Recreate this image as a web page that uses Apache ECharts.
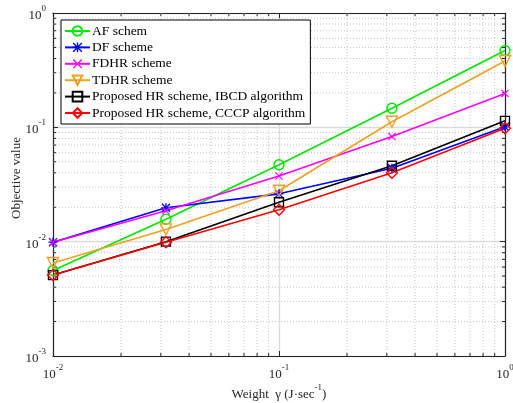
<!DOCTYPE html>
<html><head><meta charset="utf-8">
<script src="https://cdn.jsdelivr.net/npm/echarts@6/dist/echarts.min.js"></script>
<style>html,body{margin:0;padding:0;background:#fff}#c{width:513px;height:403px}</style>
</head><body><div id="c"></div>
<script>
const xValues = [0.01, 0.0316, 0.1, 0.316, 1];
const afValues = [0.0056, 0.0157, 0.047, 0.147, 0.47];
const dfValues = [0.0099, 0.0198, 0.0262, 0.0438, 0.101];
const fdhrValues = [0.0099, 0.0186, 0.0375, 0.083, 0.198];
const tdhrValues = [0.0065, 0.0128, 0.0279, 0.112, 0.38];
const ibcdValues = [0.0051, 0.0100, 0.0221, 0.0461, 0.114];
const cccpValues = [0.0051, 0.0099, 0.0190, 0.0401, 0.098];
const seriesNames = ['AF schem', 'DF scheme', 'FDHR scheme', 'TDHR scheme',
  'Proposed HR scheme, IBCD algorithm', 'Proposed HR scheme, CCCP algorithm'];
const xMin = 0.01, xMax = 1, yMin = 0.001, yMax = 1;
const minorX = [0.02,0.03,0.04,0.05,0.06,0.07,0.08,0.09,0.2,0.3,0.4,0.5,0.6,0.7,0.8,0.9];
const minorY = [0.002,0.003,0.004,0.005,0.006,0.007,0.008,0.009,0.02,0.03,0.04,0.05,0.06,0.07,0.08,0.09,0.2,0.3,0.4,0.5,0.6,0.7,0.8,0.9];

const FONT = '"Liberation Serif", "DejaVu Serif", serif';
const asterisk = 'path://M8.5,0L11.5,0L11.5,20L8.5,20Z M0,8.5L20,8.5L20,11.5L0,11.5Z M0,2L2,0L20,18L18,20Z M18,0L20,2L2,20L0,18Z';
const cross = 'path://M0,2L2,0L20,18L18,20Z M18,0L20,2L2,20L0,18Z';
const triDown = 'path://M0,0L20,0L10,18Z';
const circ = 'path://M10,0A10,10,0,1,1,9.99,0Z';
const square = 'path://M0,0L20,0L20,20L0,20Z';
const diamond = 'path://M10,0L20,10L10,20L0,10Z';

function pair(ys){ return xValues.map((x,i)=>[x, ys[i]]); }
function powLabel(v){
  const e = Math.round(Math.log10(v));
  return '{b|10}{s|' + e + '}';
}
const richLab = {
  b:{fontFamily:FONT,fontSize:13,color:'#262626',verticalAlign:'bottom',lineHeight:18},
  s:{fontFamily:FONT,fontSize:9,color:'#262626',verticalAlign:'top',lineHeight:18}
};

function mk(name, ys, color, symbol, size, hollow){
  return {
    name, type:'line', data: pair(ys), symbol, symbolSize:size,
    lineStyle:{color, width:1.6},
    itemStyle: hollow ? {color:'rgba(255,255,255,0)', borderColor:color, borderWidth:1.4} : {color, borderWidth:0},
    emphasis:{disabled:true}, z:3, xAxisIndex:0, yAxisIndex:0
  };
}

const gridItems = minorX.map(v=>({k:'x', v})).concat(minorY.map(v=>({k:'y', v})));

const option = {
  animation:false,
  backgroundColor:'#fff',
  textStyle:{fontFamily:FONT},
  grid:{left:53, right:8, top:13, bottom:47, containLabel:false, outerBoundsMode:'none'},
  legend:{
    data: seriesNames, orient:'vertical', left:61, top:20,
    backgroundColor:'#fff', borderColor:'#000', borderWidth:1,
    padding:[4,5,4,3], itemGap:2.4, itemWidth:25, itemHeight:12,
    textStyle:{fontFamily:FONT, fontSize:13.5, color:'#000', padding:[0,0,0,-3]},
    z:10
  },
  xAxis:[{
    type:'log', logBase:10, min:xMin, max:xMax, position:'bottom',
    axisLine:{show:true, onZero:false, lineStyle:{color:'#262626', width:1.2}},
    axisTick:{show:true, inside:true, length:5, lineStyle:{color:'#262626'}},
    axisLabel:{formatter:powLabel, rich:richLab, margin:7},
    splitLine:{show:true, lineStyle:{color:'#dcdcdc', width:1.3}},
    name:'{t|Weight  γ (J·sec}{s|-1}{t|)}', nameLocation:'middle', nameGap:27, nameMoveOverlap:false,
    nameTextStyle:{rich:{
      t:{fontFamily:FONT,fontSize:13,color:'#262626',verticalAlign:'bottom',lineHeight:18},
      s:{fontFamily:FONT,fontSize:9,color:'#262626',verticalAlign:'top',lineHeight:18}}}
  },{
    type:'log', logBase:10, min:xMin, max:xMax, position:'top',
    axisLine:{show:true, onZero:false, lineStyle:{color:'#262626', width:1.2}},
    axisTick:{show:true, inside:true, length:5, lineStyle:{color:'#262626'}},
    axisLabel:{show:false}, splitLine:{show:false}
  }],
  yAxis:[{
    type:'log', logBase:10, min:yMin, max:yMax, position:'left',
    axisLine:{show:true, onZero:false, lineStyle:{color:'#262626', width:1.2}},
    axisTick:{show:true, inside:true, length:5, lineStyle:{color:'#262626'}},
    axisLabel:{formatter:powLabel, rich:richLab, margin:7},
    splitLine:{show:true, lineStyle:{color:'#dcdcdc', width:1.3}},
    name:'Objective value', nameLocation:'middle', nameGap:30, nameMoveOverlap:false,
    nameTextStyle:{fontFamily:FONT, fontSize:13, color:'#262626', padding:[0,0,0,13]}
  },{
    type:'log', logBase:10, min:yMin, max:yMax, position:'right',
    axisLine:{show:true, onZero:false, lineStyle:{color:'#262626', width:1.2}},
    axisTick:{show:true, inside:true, length:5, lineStyle:{color:'#262626'}},
    axisLabel:{show:false}, splitLine:{show:false}
  }],
  series:[
    {
      name:'minorGrid', type:'custom', z:1, silent:true,
      xAxisIndex:0, yAxisIndex:0,
      data: gridItems.map(g => g.k==='x' ? [g.v, yMin] : [xMin, g.v]),
      renderItem:function(params, api){
        const g = gridItems[params.dataIndex];
        const cs = params.coordSys;
        const x0 = cs.x, x1 = cs.x + cs.width, y0 = cs.y, y1 = cs.y + cs.height;
        const st = {stroke:'#c4c4c4', lineWidth:1, lineDash:[1,2]};
        const tk = {stroke:'#262626', lineWidth:1};
        if (g.k === 'x') {
          const p = api.coord([g.v, yMin]);
          return {type:'group', children:[
            {type:'line', shape:{x1:p[0], y1:y0, x2:p[0], y2:y1}, style:st},
            {type:'line', shape:{x1:p[0], y1:y1, x2:p[0], y2:y1-3}, style:tk},
            {type:'line', shape:{x1:p[0], y1:y0, x2:p[0], y2:y0+3}, style:tk}
          ]};
        } else {
          const p = api.coord([xMin, g.v]);
          return {type:'group', children:[
            {type:'line', shape:{x1:x0, y1:p[1], x2:x1, y2:p[1]}, style:st},
            {type:'line', shape:{x1:x0, y1:p[1], x2:x0+3, y2:p[1]}, style:tk},
            {type:'line', shape:{x1:x1, y1:p[1], x2:x1-3, y2:p[1]}, style:tk}
          ]};
        }
      }
    },
    mk(seriesNames[0], afValues, '#00e600', circ, 10, true),
    mk(seriesNames[1], dfValues, '#0000ff', asterisk, 9, false),
    mk(seriesNames[2], fdhrValues, '#ff00ff', cross, 8, false),
    mk(seriesNames[3], tdhrValues, '#EDA120', triDown, 11, true),
    mk(seriesNames[4], ibcdValues, '#000000', square, 9, true),
    mk(seriesNames[5], cccpValues, '#ff0000', diamond, 11, true)
  ]
};
const chart = echarts.init(document.getElementById('c'), null, {renderer:'canvas'});
chart.setOption(option);
</script></body></html>
